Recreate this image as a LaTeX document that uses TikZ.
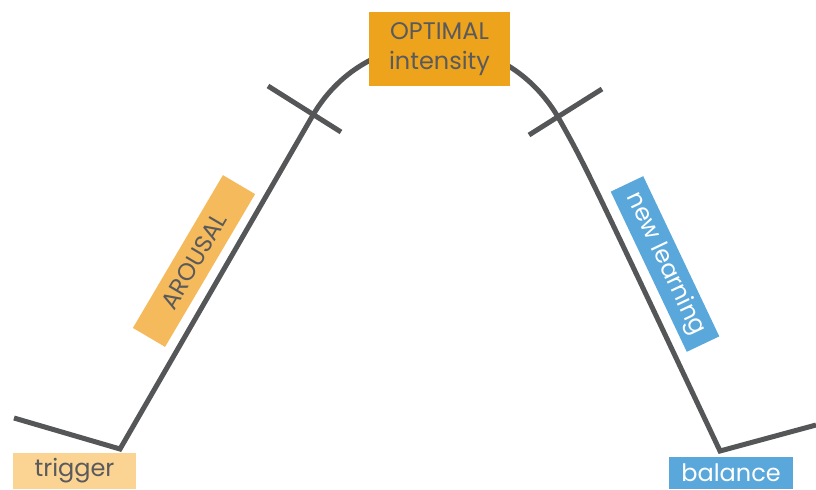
\documentclass[tikz,border=0pt]{standalone}
\usepackage{fontspec}
\setmainfont{Poppins}
\definecolor{curvegray}{HTML}{545658}
\definecolor{textgray}{HTML}{5A5A5C}
\definecolor{optorange}{HTML}{EDA31C}
\definecolor{arousorange}{HTML}{F5BA5B}
\definecolor{trigorange}{HTML}{FBD393}
\definecolor{learnblue}{HTML}{5AA8DB}
\begin{document}
\begin{tikzpicture}[x = .75pt, y = -.75pt, line width = 3.75pt,
  box/.style = {inner sep = 0pt, align = center, text = textgray, font = \fontsize{18}{22}\selectfont},
  curve/.style = {draw = curvegray, line join = miter}]
\useasboundingbox (0,0) rectangle (816,489);
\coordinate (start) at (14,418);
\coordinate (trig) at (120,449);
\coordinate (crossL) at (313,115);
\coordinate (crossR) at (558,117);
\coordinate (bal) at (720,451);
\coordinate (end) at (816,425);
\draw[curve] (start) -- (trig) -- (crossL) .. controls (369,20) and (502,22) .. (crossR)
  .. controls (585,165) .. (bal) -- (end);
\coordinate (tickLa) at (268,86);
\coordinate (tickLb) at (341,132);
\coordinate (tickRa) at (529,135);
\coordinate (tickRb) at (602,89);
\draw[curve] (tickLa) -- (tickLb);
\draw[curve] (tickRa) -- (tickRb);
\node[box, fill = optorange, minimum width = 106pt, minimum height = 55.5pt] (optimal) at (439.5,49) {OPTIMAL\\intensity};
\node[box, fill = arousorange, rotate = 59.5, minimum width = 133pt, minimum height = 28pt] (arousal) at (194,261) {AROUSAL};
\node[box, fill = learnblue, text = white, rotate = -64.6, minimum width = 133pt, minimum height = 27pt] (learning) at (665,264) {new learning};
\node[box, fill = trigorange, minimum width = 92pt, minimum height = 27pt] (trigger) at (74.5,471) {trigger};
\node[box, fill = learnblue, text = white, minimum width = 93pt, minimum height = 24pt] (balance) at (731,473) {balance};
\end{tikzpicture}
\end{document}
